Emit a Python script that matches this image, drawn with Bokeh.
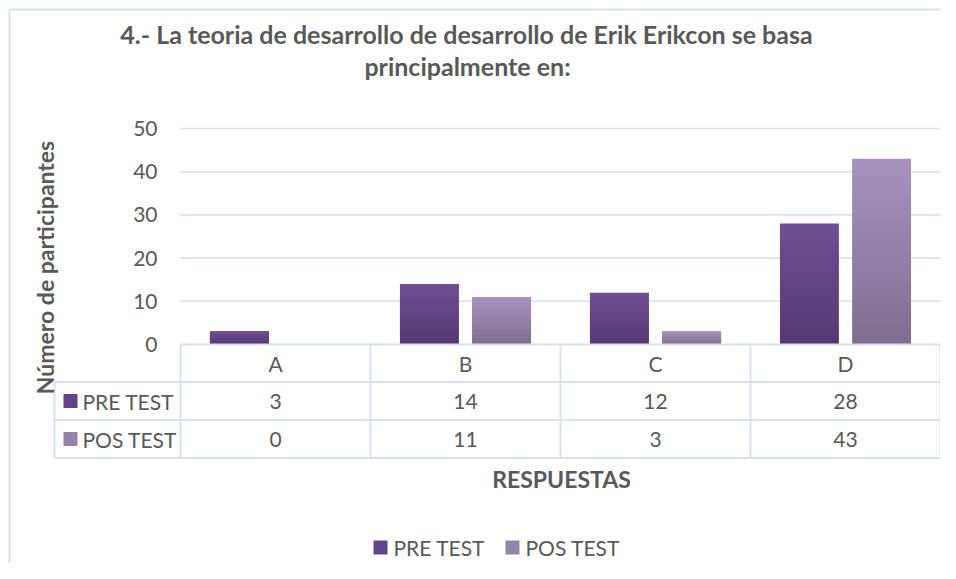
from math import pi
from bokeh.plotting import figure
from bokeh.models import Range1d
from bokeh.core.properties import value
from bokeh.embed import file_html
from bokeh.resources import INLINE

# ---- data ----
categories = ["A", "B", "C", "D"]
series_names = ["PRE TEST", "POS TEST"]
pre_test = [3, 14, 12, 28]
pos_test = [0, 11, 3, 43]
y_ticks = [0, 10, 20, 30, 40, 50]
title_lines = ["4.- La teoria de desarrollo de desarrollo de Erik Erikcon se basa",
               "principalmente en:"]
y_title = "Número de participantes"
x_title = "RESPUESTAS"

# ---- style ----
FONT = "Lato"
TXT = "#595959"
GRID = "#D9E2F1"
PRE_TOP, PRE_BOT = (0x71, 0x4E, 0x95), (0x52, 0x39, 0x70)
POS_TOP, POS_BOT = (0xA6, 0x93, 0xBF), (0x7E, 0x6F, 0x91)
PRE_MID = "#62448A"
POS_MID = "#9484AC"

W, H = 940, 563
ORG = 0.0                      # canvas origin in picture pixels
PX0, CATW = 180.0, 190.0       # x pixel of first category edge, category width
PY0, PPU = 344.0, 4.32         # y pixel of value 0, pixels per unit


def X(px):
    return (px - PX0) / CATW


def Y(py):
    return (PY0 - py) / PPU


p = figure(width=W, height=H, output_backend="svg", toolbar_location=None,
           x_range=Range1d(X(ORG), X(ORG + W)), y_range=Range1d(Y(ORG + H), Y(ORG)),
           min_border=0, x_axis_type=None, y_axis_type=None)
p.grid.visible = False
p.outline_line_color = None
p.background_fill_color = "white"
p.border_fill_color = "white"

n = len(categories)

# outer chart border (top and left edges)
p.segment(x0=[X(9), X(9)], y0=[Y(9), Y(9)], x1=[X(ORG + W), X(9)], y1=[Y(9), Y(ORG + H)],
          line_color=GRID, line_width=2)

# gridlines
gy = [t for t in y_ticks if t > 0]
p.segment(x0=[0] * len(gy), y0=gy, x1=[n] * len(gy), y1=gy, line_color=GRID, line_width=1.6)

# y tick labels
p.text(x=[X(157)] * len(y_ticks), y=y_ticks, text=[str(t) for t in y_ticks],
       text_align="right", text_baseline="middle", text_color=TXT,
       text_font=value(FONT), text_font_size="21px")

# bars with vertical gradient
NS = 30
off, bw = 0.19, 0.31


def mix(a, b, t):
    return "#%02x%02x%02x" % tuple(int(round(a[i] + (b[i] - a[i]) * t)) for i in range(3))


for vals, sgn, top, bot in [(pre_test, -1, PRE_TOP, PRE_BOT), (pos_test, 1, POS_TOP, POS_BOT)]:
    L, R, B, T, C = [], [], [], [], []
    for i, v in enumerate(vals):
        if v <= 0:
            continue
        cx = i + 0.5 + sgn * off
        for k in range(NS):
            L.append(cx - bw / 2)
            R.append(cx + bw / 2)
            B.append(v * k / NS)
            T.append(min(v, v * (k + 1) / NS + 0.35))
            C.append(mix(bot, top, (k + 0.5) / NS))
    p.quad(left=L, right=R, bottom=B, top=T, fill_color=C, line_color=None)

# data table
r0, r1, r2, r3 = Y(344), Y(381.5), Y(419.5), Y(457.5)
tab_left = X(54)
hx0 = [0, tab_left, tab_left, tab_left]
hx1 = [n, n, n, n]
hy = [r0, r1, r2, r3]
p.segment(x0=hx0, y0=hy, x1=hx1, y1=hy, line_color=GRID, line_width=2)
vx = list(range(n + 1))
p.segment(x0=vx, y0=[r0] * len(vx), x1=vx, y1=[r3] * len(vx), line_color=GRID, line_width=2)
p.segment(x0=[tab_left], y0=[r1], x1=[tab_left], y1=[r3], line_color=GRID, line_width=2)

cx = [i + 0.5 for i in range(n)]
tstyle = dict(text_align="center", text_baseline="middle", text_color=TXT,
              text_font=value(FONT), text_font_size="21px")
p.text(x=cx, y=[(r0 + r1) / 2] * n, text=categories, **tstyle)
p.text(x=cx, y=[(r1 + r2) / 2] * n, text=[str(v) for v in pre_test], **tstyle)
p.text(x=cx, y=[(r2 + r3) / 2] * n, text=[str(v) for v in pos_test], **tstyle)

# table legend keys
p.scatter(x=[X(70), X(70)], y=[(r1 + r2) / 2, (r2 + r3) / 2], marker="square", size=14,
          fill_color=[PRE_MID, POS_MID], line_color=None)
p.text(x=[X(82), X(82)], y=[(r1 + r2) / 2, (r2 + r3) / 2], text=series_names,
       text_align="left", text_baseline="middle", text_color=TXT,
       text_font=value(FONT), text_font_size="21px")

# title
p.text(x=[X(466), X(467)], y=[Y(33), Y(65)], text=title_lines,
       text_align="center", text_baseline="middle", text_color=TXT,
       text_font=value(FONT), text_font_size="25px", text_font_style="bold")

# axis titles
p.text(x=[X(44)], y=[Y(267)], text=[y_title], angle=pi / 2,
       text_align="center", text_baseline="middle", text_color=TXT,
       text_font=value(FONT), text_font_size="23px", text_font_style="bold")
p.text(x=[X(561)], y=[Y(478)], text=[x_title],
       text_align="center", text_baseline="middle", text_color=TXT,
       text_font=value(FONT), text_font_size="23px", text_font_style="bold")

# bottom legend
ly = Y(547)
p.scatter(x=[X(380), X(512)], y=[ly, ly], marker="square", size=14,
          fill_color=[PRE_MID, POS_MID], line_color=None)
p.text(x=[X(393), X(525)], y=[ly, ly], text=series_names,
       text_align="left", text_baseline="middle", text_color=TXT,
       text_font=value(FONT), text_font_size="21px")

open("out.html", "w").write(file_html(p, INLINE))
